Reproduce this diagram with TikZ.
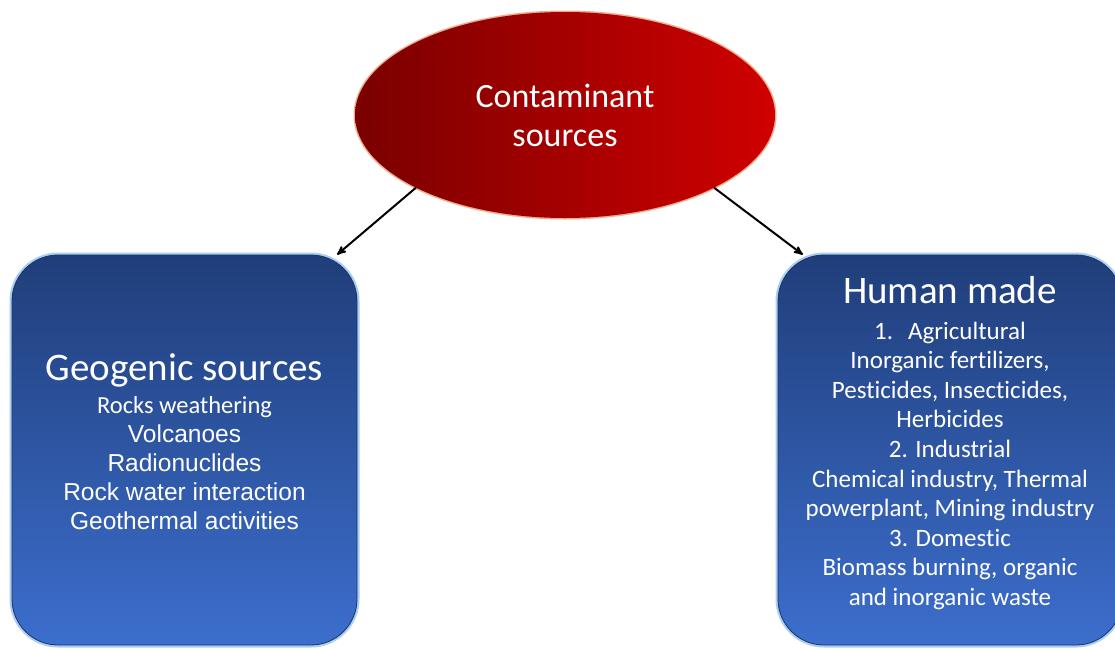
\documentclass[tikz,border=0pt]{standalone}
\usepackage{fontspec}
\setmainfont{Carlito}[RawFeature={-liga;-clig;-calt;-dlig}]
\newfontfamily\arialfont{Liberation Sans}
\usetikzlibrary{arrows,shapes.geometric}
\definecolor{darkred}{RGB}{122,0,0}
\definecolor{brightred}{RGB}{208,0,0}
\definecolor{glowred}{RGB}{240,170,140}
\definecolor{topblue}{RGB}{32,62,122}
\definecolor{bottomblue}{RGB}{60,110,205}
\definecolor{edgeblue}{RGB}{28,52,100}
\definecolor{glowblue}{RGB}{170,205,245}

\begin{document}
\begin{tikzpicture}[x=1pt,y=-1pt,>=stealth',
  source node/.style={ellipse,minimum width=420pt,minimum height=206pt,left color=darkred,right color=brightred,
    preaction={draw=glowred,line width=3pt},text=white,align=center,font=\fontsize{34}{39}\selectfont},
  group box/.style={rectangle,rounded corners=46pt,top color=topblue,bottom color=bottomblue,draw=edgeblue,line width=0.8pt,
    preaction={draw=glowblue,line width=5pt}},
  box text/.style={text=white,align=center},
  link/.style={->,draw=black,line width=2pt}]
  \useasboundingbox (0,0) rectangle (1115,648);
  \node[source node] (src) at (565,115) {Contaminant\\sources};
  \node[group box,minimum width=345pt,minimum height=390pt] (geo) at (184.5,450) {};
  \node[group box,minimum width=344pt,minimum height=390pt] (human) at (950,450) {}; % rechter Rand liegt ausserhalb des Bildes
  \node[box text,font=\fontsize{24.5}{29}\selectfont] (geotext) at ([yshift=8pt]geo.center)
    {{\fontsize{39}{36}\selectfont Geogenic sources}\\[4pt]
     Rocks weathering\\ \arialfont Volcanoes\\ \arialfont Radionuclides\\
     \arialfont Rock water interaction\\ \arialfont Geothermal activities};
  \node[box text,font=\fontsize{25}{29.6}\selectfont] (humantext) at ([yshift=7pt]human.center)
    {{\fontsize{39}{36}\selectfont Human made}\\[6pt]
     1.\hspace{0.6em}Agricultural\\ Inorganic fertilizers,\\ Pesticides, Insecticides,\\ Herbicides\\
     2. Industrial\\ Chemical industry, Thermal\\ powerplant, Mining industry\\
     3. Domestic\\ Biomass burning, organic\\ and inorganic waste};

  \draw[link] (src.206) -- (geo.52.5);
  \draw[link] (src.334) -- (human.127);
\end{tikzpicture}
\end{document}
